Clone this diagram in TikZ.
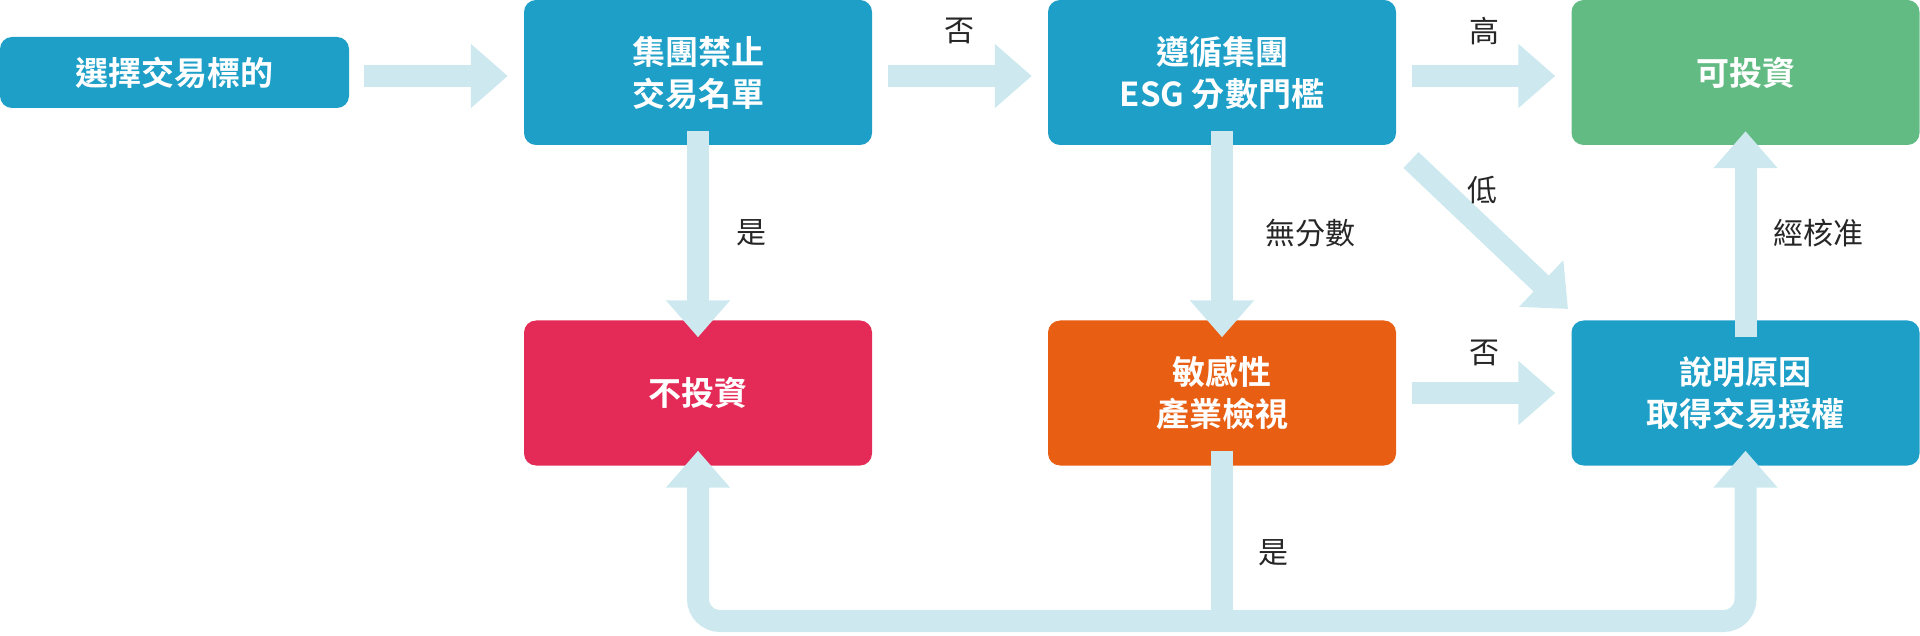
\documentclass[tikz,border=0pt]{standalone}
\usepackage{fontspec}
\newfontfamily\cjk{Noto Sans CJK TC}
\newfontfamily\cjkb{Noto Sans CJK TC Bold}
\usetikzlibrary{arrows.meta}
\definecolor{boxblue}{HTML}{1E9FC8}
\definecolor{boxgreen}{HTML}{63BB84}
\definecolor{boxred}{HTML}{E42B57}
\definecolor{boxorange}{HTML}{E85E13}
\definecolor{arr}{HTML}{CDE9EF}
\begin{document}
\begin{tikzpicture}[x=1pt,y=-1pt,
  box/.style={rounded corners=12pt,minimum width=348pt,minimum height=145pt,text=white,align=center,font=\cjkb\fontsize{33}{42}\selectfont,inner sep=0pt},
  flow/.style={draw=arr,line width=22pt,-{Triangle[length=37pt,width=62pt]}},
  lab/.style={font=\cjk\fontsize{30}{36}\selectfont,text=black!85}]
\useasboundingbox (0,0) rectangle (1920,636);
\node[box,fill=boxblue,minimum height=71pt,minimum width=349pt] (sel) at (174.5,72.5) {選擇交易標的};
\node[box,fill=boxblue] (ban) at (698,72.5) {集團禁止\\交易名單};
\node[box,fill=boxblue] (esg) at (1222,72.5) {遵循集團\\ESG 分數門檻};
\node[box,fill=boxgreen] (ok) at (1745.5,72.5) {可投資};
\node[box,fill=boxred] (no) at (698,393) {不投資};
\node[box,fill=boxorange] (sens) at (1222,393) {敏感性\\產業檢視};
\node[box,fill=boxblue] (exp) at (1745.5,393) {說明原因\\取得交易授權};
\coordinate (bot) at (1222,621);
\draw[flow] ([xshift=15pt]sel.east |- 0,76) -- ([xshift=-16pt]ban.west |- 0,76);
\draw[flow] ([xshift=16pt]ban.east |- 0,76) -- ([xshift=-16pt]esg.west |- 0,76);
\draw[flow] ([xshift=16pt]esg.east |- 0,76) -- ([xshift=-16pt]ok.west |- 0,76);
\draw[flow] ([yshift=14pt]ban.south) -- ([yshift=-17pt]no.north);
\draw[flow] ([yshift=14pt]esg.south) -- ([yshift=-17pt]sens.north);
\draw[flow] (1411,160) -- (1568,309);
\draw[flow] ([yshift=-17pt]exp.north) -- ([yshift=14pt]ok.south);
\draw[flow] ([xshift=16pt]sens.east) -- ([xshift=-16pt]exp.west);
\draw[draw=arr,line width=22pt,rounded corners=22pt] ([yshift=15pt]sens.south) -- (bot);
\draw[flow,rounded corners=22pt] (bot) -| ([yshift=15pt]no.south);
\draw[flow,rounded corners=22pt] (bot) -| ([yshift=15pt]exp.south);
\node[lab] (l1) at (959,31) {否};
\node[lab] (l2) at (1484,31) {高};
\node[lab] (l3) at (751,233) {是};
\node[lab] (l4) at (1310,233) {無分數};
\node[lab] (l5) at (1482,190) {低};
\node[lab] (l6) at (1818,233) {經核准};
\node[lab] (l7) at (1484,353) {否};
\node[lab] (l8) at (1273,553) {是};
\end{tikzpicture}
\end{document}
